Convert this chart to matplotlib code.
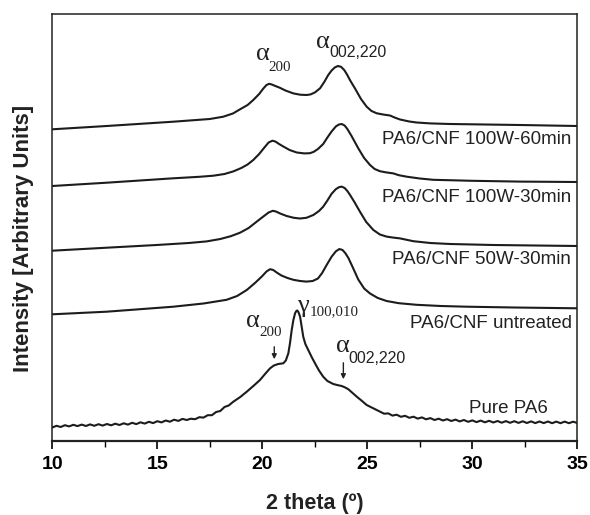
import matplotlib
matplotlib.use("Agg")
import matplotlib.pyplot as plt

# XRD patterns, 2 theta (deg) vs intensity (a.u., stacked as in the figure)
x_100w60 = [10.0, 12.59, 15.76, 17.5, 18.14, 18.6, 18.94, 19.3, 19.57, 19.85, 20.05, 20.2,
            20.33, 20.45, 20.6, 20.84, 21.1, 21.48, 21.8, 22.11, 22.3, 22.5, 22.75, 22.95,
            23.14, 23.3, 23.45, 23.6, 23.75, 23.9, 24.02, 24.2, 24.41, 24.7, 24.97, 25.2,
            25.45, 25.75, 26.08, 26.3, 26.56, 27.0, 27.35, 28.0, 28.94, 32.27, 35.0]
y_100w60 = [311.7, 315.0, 319.3, 322.0, 324.3, 327.5, 331.7, 336.0, 341.0, 347.0, 352.5, 356.0,
            357.2, 356.5, 355.2, 353.2, 350.5, 347.6, 346.3, 346.0, 346.6, 348.5, 352.7, 359.0,
            366.0, 370.5, 373.5, 375.0, 374.2, 371.0, 367.0, 360.0, 352.7, 342.0, 334.3, 330.0,
            327.7, 326.5, 325.5, 323.5, 321.5, 319.5, 318.5, 317.6, 317.0, 316.0, 315.0]

x_100w30 = [10.0, 12.59, 15.76, 17.0, 17.67, 18.2, 18.62, 19.0, 19.3, 19.57, 19.85, 20.1,
            20.3, 20.48, 20.62, 20.8, 21.0, 21.3, 21.64, 22.0, 22.27, 22.45, 22.65, 22.9,
            23.1, 23.3, 23.5, 23.65, 23.78, 23.92, 24.05, 24.25, 24.57, 24.85, 25.13, 25.35,
            25.6, 25.9, 26.24, 26.5, 26.88, 27.5, 28.14, 30.0, 32.27, 35.0]
y_100w30 = [255.0, 258.3, 262.7, 264.2, 265.3, 267.0, 269.6, 273.0, 276.5, 281.0, 287.0, 293.5,
            298.5, 300.3, 299.5, 297.0, 294.5, 291.0, 288.5, 287.6, 287.8, 289.2, 292.0, 297.0,
            303.5, 309.5, 314.5, 316.5, 317.0, 315.5, 312.0, 305.0, 292.7, 283.0, 276.0, 272.0,
            269.8, 268.6, 267.6, 265.8, 264.3, 262.5, 261.2, 260.2, 259.4, 259.0]

x_50w30 = [10.0, 12.59, 14.97, 16.5, 17.35, 18.0, 18.5, 18.94, 19.35, 19.73, 20.05, 20.3,
           20.5, 20.65, 20.85, 21.16, 21.5, 21.8, 22.1, 22.43, 22.7, 22.9, 23.1, 23.3, 23.5,
           23.65, 23.78, 23.92, 24.05, 24.18, 24.4, 24.65, 24.95, 25.29, 25.6, 25.92, 26.2,
           26.56, 27.19, 28.0, 28.94, 31.0, 35.0]
y_50w30 = [190.3, 193.3, 196.0, 198.0, 199.6, 202.0, 204.8, 208.3, 213.0, 219.3, 224.5, 228.5,
           230.2, 229.5, 227.5, 225.0, 223.2, 222.5, 223.2, 226.0, 230.0, 234.3, 240.5, 247.2, 251.8,
           253.8, 254.4, 253.0, 250.0, 246.0, 238.5, 229.3, 219.0, 211.0, 206.5, 204.4, 203.5,
           202.6, 199.8, 198.0, 197.0, 196.0, 195.0]

x_untreated = [10.0, 12.59, 15.76, 17.2, 18.3, 18.8, 19.26, 19.65, 19.97, 20.2, 20.37, 20.52,
               20.7, 20.9, 21.2, 21.48, 21.8, 22.11, 22.4, 22.65, 22.85, 23.05, 23.3, 23.5,
               23.67, 23.82, 23.95, 24.1, 24.3, 24.57, 24.85, 25.13, 25.5, 25.92, 26.5, 27.35,
               28.5, 29.73, 32.0, 35.0]
y_untreated = [126.7, 129.3, 134.3, 137.5, 141.2, 145.0, 151.0, 158.0, 164.3, 169.5, 171.8, 171.0,
               168.3, 165.6, 163.0, 161.2, 160.0, 159.4, 160.0, 162.5, 168.0, 175.5, 184.3, 189.6,
               192.0, 191.0, 188.0, 183.0, 174.0, 161.5, 152.5, 147.5, 143.0, 140.0, 137.8, 136.2,
               135.0, 134.3, 133.5, 132.7]

x_pure = [10.0, 10.2, 10.4, 10.6, 10.8, 11.0, 11.2, 11.4, 11.6, 11.8, 12.0, 12.2, 12.4, 12.6,
          12.8, 13.0, 13.2, 13.4, 13.6, 13.8, 14.0, 14.2, 14.4, 14.6, 14.8, 15.0, 15.2, 15.4,
          15.6, 15.8, 16.0, 16.2, 16.4, 16.6, 16.8, 17.0, 17.2, 17.4, 17.6, 17.8, 18.0, 18.2,
          18.4, 18.62, 18.95, 19.26, 19.6, 19.89, 20.15, 20.37, 20.55, 20.76, 21.0, 21.12,
          21.24, 21.32, 21.4, 21.48, 21.56, 21.62, 21.67, 21.73, 21.8, 21.88, 21.95, 22.05,
          22.19, 22.35, 22.51, 22.7, 22.9, 23.1, 23.38, 23.6, 23.78, 23.95, 24.1, 24.3, 24.5,
          24.75, 24.97, 25.3, 25.6,
          25.8, 26.0, 26.2, 26.4, 26.6, 26.8, 27.0, 27.2, 27.4, 27.6, 27.8, 28.0, 28.2, 28.4,
          28.6, 28.8, 29.0, 29.2, 29.4, 29.6, 29.8, 30.0, 30.2, 30.4, 30.6, 30.8, 31.0, 31.2,
          31.4, 31.6, 31.8, 32.0, 32.2, 32.4, 32.6, 32.8, 33.0, 33.2, 33.4, 33.6, 33.8, 34.0,
          34.2, 34.4, 34.6, 34.8, 35.0]
y_pure = [13.5, 15.2, 14.0, 15.8, 14.6, 16.2, 14.9, 16.4, 15.0, 16.6, 15.2, 16.8, 15.4, 17.0,
          15.7, 17.3, 16.0, 17.7, 16.4, 18.2, 16.9, 18.7, 17.4, 19.2, 17.9, 19.8, 18.6, 20.5,
          19.3, 21.3, 20.1, 22.1, 21.0, 22.3, 21.8, 23.8, 23.4, 25.8, 25.8, 29.0, 30.0, 34.0,
          35.5, 39.3, 44.0, 49.3, 55.5, 61.0, 67.5, 72.7, 75.5, 77.0, 77.7, 80.5,
          87.7, 98.0, 111.0, 121.0, 127.7, 130.0, 130.5, 128.5, 124.3, 114.0, 104.3, 97.0,
          91.0, 84.0, 77.7, 70.5, 64.3, 60.0, 57.0, 55.8, 55.0, 53.5, 51.7, 48.0, 44.3,
          40.0, 36.0, 32.5, 29.3,
          27.3, 27.6, 25.4, 26.3, 24.2, 25.2, 23.2, 24.3, 22.4, 23.6, 21.7, 22.9, 21.0, 22.3,
          20.5, 21.8, 20.0, 21.4, 19.6, 21.0, 19.2, 20.6, 18.9, 20.4, 18.7, 20.2, 18.5, 20.0,
          18.3, 19.9, 18.2, 19.8, 18.1, 19.7, 18.0, 19.6, 17.9, 19.5, 17.9, 19.5, 17.8, 19.4,
          17.8, 19.4, 17.8, 19.3, 18.0]

sample_labels = ["PA6/CNF 100W-60min", "PA6/CNF 100W-30min", "PA6/CNF 50W-30min",
                 "PA6/CNF untreated", "Pure PA6"]
label_y = [301, 243.5, 181, 117.7, 32.7]
label_x = [34.7, 34.7, 34.7, 34.73, 33.62]

xticks = [10, 15, 20, 25, 30, 35]

plt.rcParams["font.family"] = ["Liberation Sans", "DejaVu Sans"]

fig = plt.figure(figsize=(5.9, 5.15), dpi=100)
ax = fig.add_axes([52.3 / 590, 74 / 515, 525 / 590, 427 / 515])

line_col = "#1c1c1c"
for xs, ys in [(x_100w60, y_100w60), (x_100w30, y_100w30), (x_50w30, y_50w30),
               (x_untreated, y_untreated), (x_pure, y_pure)]:
    ax.plot(xs, ys, color=line_col, linewidth=1.5, solid_joinstyle="round")

for lab, lx, ly in zip(sample_labels, label_x, label_y):
    ax.text(lx, ly, lab, ha="right", va="center", fontsize=13.5, color="#222222")

# peak labels: greek letter + subscript
serif = ["Liberation Serif", "DejaVu Serif"]
def peak_label(xa, ya, xs, ys, sub, subfont):
    ax.text(xa, ya, "α" if sub != "100,010" else "γ", family=serif, fontsize=19,
            ha="center", va="center", color="#222222")
    ax.text(xs, ys, sub, family=subfont, fontsize=10.8 if subfont is serif else 11.5,
            ha="left", va="center", color="#222222")

peak_label(20.05, 387, 20.3, 373.8, "200", serif)
peak_label(22.90, 398.7, 23.2, 388.7, "002,220", ["Liberation Sans"])
peak_label(19.57, 120.3, 19.85, 108.8, "200", serif)
peak_label(21.95, 135, 22.25, 129.0, "100,010", serif)
peak_label(23.83, 95.3, 24.12, 82.7, "002,220", ["Liberation Sans"])

arrow = dict(arrowstyle="-|>", color="#222222", lw=1.0, mutation_scale=7)
ax.annotate("", xy=(20.57, 79), xytext=(20.57, 97), arrowprops=arrow)
ax.annotate("", xy=(23.86, 59), xytext=(23.86, 81), arrowprops=arrow)

ax.set_xlim(10, 35)
ax.set_ylim(0, 427)
ax.set_xticks(xticks)
ax.set_xticks([12.5, 17.5, 22.5, 27.5, 32.5], minor=True)
ax.set_yticks([])
ax.tick_params(axis="x", which="major", direction="out", length=6, width=1.2,
               labelsize=14, pad=5)
ax.tick_params(axis="x", which="minor", direction="out", length=4, width=1.0)
for t in ax.get_xticklabels():
    t.set_fontweight("bold")
for s in ["top", "right", "left"]:
    ax.spines[s].set_linewidth(1.1)
    ax.spines[s].set_color("#222222")
ax.spines["bottom"].set_linewidth(1.6)
ax.spines["bottom"].set_color("#222222")

fig.text(315 / 590, 1 - 504 / 515, "2 theta (º)", ha="center", va="center",
         fontsize=15.5, fontweight="bold", color="#222222")
fig.text(24 / 590, 1 - 238 / 515, "Intensity [Arbitrary Units]", ha="center", va="center",
         rotation=90, fontsize=16, fontweight="bold", color="#222222")

fig.savefig("out.png", dpi=100)
